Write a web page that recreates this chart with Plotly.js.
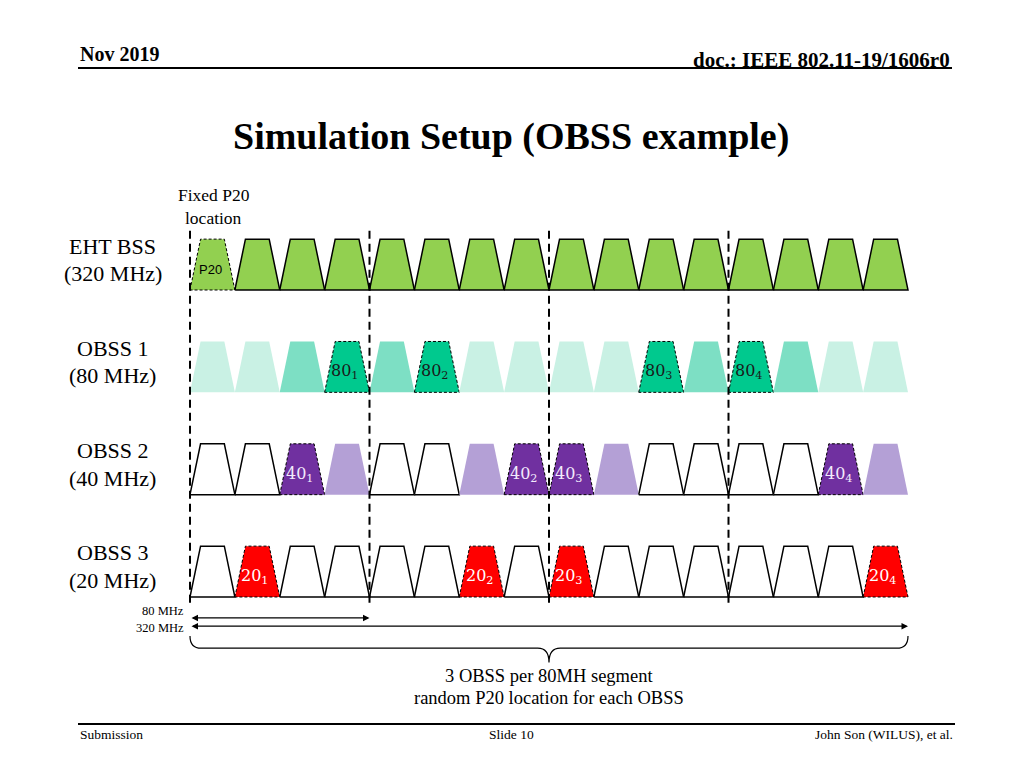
<!DOCTYPE html>
<html>
<head>
<meta charset="utf-8">
<script src="https://cdn.plot.ly/plotly-3.0.1.min.js"></script>
<style>html,body{margin:0;padding:0;background:#fff;}#chart{width:1024px;height:768px;}</style>
</head>
<body>
<div id="chart"></div>
<script>
// ---------------- data ----------------
const channels = [1,2,3,4,5,6,7,8,9,10,11,12,13,14,15,16];
const rowNames = ["EHT BSS", "OBSS 1", "OBSS 2", "OBSS 3"];
const rowBandwidths = ["(320 MHz)", "(80 MHz)", "(40 MHz)", "(20 MHz)"];
// channel states per row: P = primary, F = full, L = light, M = medium, S = secondary-40, W = empty
const ehtState   = ["P","F","F","F","F","F","F","F","F","F","F","F","F","F","F","F"];
const obss1State = ["L","L","M","P","M","P","L","L","L","L","P","M","P","M","L","L"];
const obss2State = ["W","W","P","S","W","W","S","P","P","S","W","W","W","W","P","S"];
const obss3State = ["W","P","W","W","W","W","P","W","P","W","W","W","W","W","W","P"];
const obss1Labels = ["80","80","80","80"];
const obss2Labels = ["40","40","40","40"];
const obss3Labels = ["20","20","20","20"];
const segmentBoundaries = [0, 4, 8, 12];
const arrowSpans = [{label: "80 MHz", channels: 4}, {label: "320 MHz", channels: 16}];
const braceText = ["3 OBSS per 80MH segment", "random P20 location for each OBSS"];

// ---------------- geometry (layout only) ----------------
const chW = 44.875;   // px per channel
const rowH = 102.33;  // px per row
const x0px = 190, y0px = 290;
const inset = 0.235, trapH = 0.497;
const SERIF = "Liberation Serif, Times New Roman, serif";

const styles = {
  eht:   {P:{fill:"#92d050", line:"#000", dash:"3px,2px", w:1}, F:{fill:"#92d050", line:"#000", dash:"solid", w:1.5}},
  obss1: {L:{fill:"#c9f1e4", line:null}, M:{fill:"#7ddfc4", line:null}, P:{fill:"#00c98e", line:"#000", dash:"3px,2px", w:1}},
  obss2: {W:{fill:"#ffffff", line:"#000", dash:"solid", w:1.5}, S:{fill:"#b4a0d6", line:null}, P:{fill:"#7030a0", line:"#000", dash:"3px,2px", w:1}},
  obss3: {W:{fill:"#ffffff", line:"#000", dash:"solid", w:1.5}, P:{fill:"#ff0000", line:"#000", dash:"3px,2px", w:1}}
};

const rows = [
  {state: ehtState,   style: styles.eht,   labels: null,        labelColor: "#000"},
  {state: obss1State, style: styles.obss1, labels: obss1Labels, labelColor: "#1a1a1a"},
  {state: obss2State, style: styles.obss2, labels: obss2Labels, labelColor: "#f3eafc"},
  {state: obss3State, style: styles.obss3, labels: obss3Labels, labelColor: "#ffffff"}
];

const traces = [];
const annotations = [];
const shapes = [];

rows.forEach((row, r) => {
  let k = 0;
  channels.forEach((ch, idx) => {
    const st = row.style[row.state[idx]];
    const xs = [ch-1, ch-1+inset, ch-inset, ch, ch-1];
    const ys = [r, r-trapH, r-trapH, r, r];
    traces.push({
      type: "scatter", mode: "lines", x: xs, y: ys, fill: "toself",
      fillcolor: st.fill,
      line: st.line ? {color: st.line, width: st.w, dash: st.dash} : {width: 0, color: st.fill},
      hoverinfo: "skip"
    });
    if (row.labels && row.state[idx] === "P") {
      annotations.push({
        x: ch - 0.56, y: r - 0.2, xref: "x", yref: "y", showarrow: false,
        text: row.labels[k] + "<sub>" + (k+1) + "</sub>",
        font: {family: "DejaVu Serif", size: 16, color: row.labelColor}
      });
      k++;
    }
  });
  // row label
  annotations.push({x: -1.72, y: r - 0.43, xref: "x", yref: "y", showarrow: false,
    text: rowNames[r], font: {family: SERIF, size: 22, color: "#000"}});
  annotations.push({x: -1.72, y: r - 0.16, xref: "x", yref: "y", showarrow: false,
    text: rowBandwidths[r], font: {family: SERIF, size: 22, color: "#000"}});
});

// P20 label
annotations.push({x: 0.45, y: -0.2, xref: "x", yref: "y", showarrow: false, text: "P20",
  font: {family: "Liberation Sans", size: 13, color: "#000"}});
// Fixed P20 location
annotations.push({x: 0.53, y: -0.925, xref: "x", yref: "y", showarrow: false, text: "Fixed P20",
  font: {family: SERIF, size: 17.5, color: "#000"}});
annotations.push({x: 0.53, y: -0.705, xref: "x", yref: "y", showarrow: false, text: "location",
  font: {family: SERIF, size: 17.5, color: "#000"}});

// segment dashed lines
segmentBoundaries.forEach(b => {
  shapes.push({type: "line", xref: "x", yref: "y", x0: b, x1: b, y0: -0.58, y1: 3.08,
    line: {color: "#000", width: 2, dash: "8px,5px"}, layer: "above"});
});

// arrows
arrowSpans.forEach((a, i) => {
  const ya = 3.205 + i*0.08;
  annotations.push({x: a.channels, y: ya, ax: 0, ay: ya, xref: "x", yref: "y", axref: "x", ayref: "y",
    text: "", showarrow: true, arrowside: "end+start", arrowhead: 2, arrowsize: 1, arrowwidth: 1.3, arrowcolor: "#000"});
  annotations.push({x: -0.1, y: 3.135 + i*0.165, xref: "x", yref: "y", xanchor: "right", showarrow: false,
    text: a.label, font: {family: SERIF, size: 12.5, color: "#000"}});
});

// brace
const bL = 0, bR = 16, bM = 8, yT = 3.38, yH = 3.50, yTip = 3.64;
shapes.push({type: "path", xref: "x", yref: "y", layer: "above",
  path: `M ${bL},${yT} Q ${bL},${yH} ${bL+0.25},${yH} L ${bM-0.25},${yH} Q ${bM},${yH} ${bM},${yTip} Q ${bM},${yH} ${bM+0.25},${yH} L ${bR-0.25},${yH} Q ${bR},${yH} ${bR},${yT}`,
  line: {color: "#000", width: 1.2}});
braceText.forEach((t, i) => {
  annotations.push({x: 8, y: 3.775 + i*0.215, xref: "x", yref: "y", showarrow: false, text: t,
    font: {family: SERIF, size: 18.5, color: "#000"}});
});

// header / footer / title (paper coords)
const P = (px) => px/1024, Q = (py) => 1 - py/768;
const paperText = (x, y, xa, text, size) => annotations.push({x: P(x), y: Q(y), xref: "paper", yref: "paper",
  xanchor: xa, yanchor: "middle", showarrow: false, text: text, font: {family: SERIF, size: size, color: "#000"}});
paperText(78, 54, "left", "<b>Nov 2019</b>", 20);
paperText(952, 60, "right", "<b>doc.: IEEE 802.11-19/1606r0</b>", 21);
paperText(511, 137, "center", "<b>Simulation Setup (OBSS example)</b>", 38);
paperText(78, 734, "left", "Submission", 13.5);
paperText(511, 734, "center", "Slide 10", 13.5);
paperText(955, 734, "right", "John Son (WILUS), et al.", 13.5);
shapes.push({type: "line", xref: "paper", yref: "paper", x0: P(78), x1: P(952), y0: Q(68), y1: Q(68),
  line: {color: "#000", width: 2}});
shapes.push({type: "line", xref: "paper", yref: "paper", x0: P(78), x1: P(955), y0: Q(724), y1: Q(724),
  line: {color: "#000", width: 2}});

const layout = {
  width: 1024, height: 768,
  margin: {l: 0, r: 0, t: 0, b: 0},
  paper_bgcolor: "#fff", plot_bgcolor: "#fff",
  showlegend: false,
  xaxis: {range: [-x0px/chW, (1024-x0px)/chW], visible: false, fixedrange: true},
  yaxis: {range: [(768-y0px)/rowH, -y0px/rowH], visible: false, fixedrange: true},
  annotations: annotations,
  shapes: shapes
};

Plotly.newPlot("chart", traces, layout, {displayModeBar: false, staticPlot: true});
</script>
</body>
</html>
